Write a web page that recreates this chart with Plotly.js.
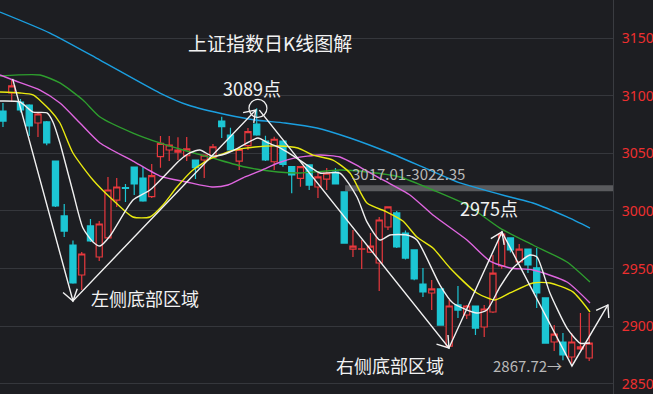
<!DOCTYPE html>
<html><head><meta charset="utf-8">
<script src="https://cdn.plot.ly/plotly-3.0.1.min.js"></script>
<style>html,body{margin:0;padding:0;background:#1d1e22;overflow:hidden}#chart{width:653px;height:394px}</style>
</head><body><div id="chart"></div>
<script>
// ---- candles (left to right) ----
const opens = [3086.7,3102.3,3094.5,3091.9,3076.3,3077.2,3043.3,2995.7,2970.5,2944.5,
  2987.0,2960.1,2976.6,3009.5,3020.3,3038.1,3028.6,3012.4,3047.1,3052.9,
  3051.1,3047.9,3044.2,3044.2,3046.2,3078.0,3065.9,3043.3,3056.6,3075.4,
  3060.7,3042.7,3060.7,3038.4,3028.3,3039.9,3020.8,3027.7,3033.8,3016.5,
  2967.0,2966.8,2964.4,2954.9,2986.1,2998.3,2980.9,2966.2,2936.7,2928.9,
  2932.4,2882.9,2918.5,2909.8,2917.6,2899.4,2912.4,2952.3,2976.6,2955.8,
  2967.0,2950.6,2924.6,2886.4,2886.4,2873.4,2880.3,2872.5];
const highs = [3093.6,3113.6,3097.0,3092.5,3085.8,3078.0,3043.5,3006.1,2974.5,2964.4,
  2993.0,2991.3,3029.5,3028.6,3023.4,3038.5,3038.1,3040.7,3065.0,3065.0,
  3063.9,3064.2,3044.2,3048.5,3058.1,3081.8,3072.2,3055.7,3072.0,3089.0,
  3065.3,3064.4,3060.7,3038.4,3038.4,3040.0,3032.9,3037.3,3037.3,3016.5,
  2983.5,2974.8,2980.9,2994.8,3003.5,3000.0,2983.0,2966.2,2950.6,2940.2,
  2932.4,2922.8,2935.0,2918.5,2917.6,2918.5,2961.8,2982.0,2977.0,2971.4,
  2967.0,2967.9,2924.6,2901.1,2894.2,2894.2,2911.5,2911.5];
const lows = [3072.8,3094.5,3085.5,3065.0,3064.2,3057.0,3003.5,2977.4,2937.0,2931.5,
  2973.0,2956.6,2976.0,3003.5,3007.8,3013.9,3008.0,3011.3,3037.5,3043.3,
  3044.2,3043.3,3027.7,3028.6,3045.9,3063.3,3052.9,3035.5,3052.9,3065.3,
  3043.3,3035.5,3038.4,3015.3,3021.1,3018.2,3011.3,3018.2,3023.4,2972.2,
  2960.1,2949.7,2963.6,2930.6,2983.5,2968.0,2958.0,2940.0,2925.4,2914.1,
  2901.1,2882.1,2907.2,2906.3,2892.5,2890.7,2911.5,2950.0,2964.0,2955.0,
  2946.2,2915.9,2885.0,2878.6,2870.5,2867.72,2879.5,2869.9];
const closes = [3078.0,3108.4,3087.6,3073.7,3084.1,3059.0,3004.3,2982.6,2937.6,2962.7,
  2974.0,2988.7,3018.2,3020.8,3019.6,3023.4,3008.7,3030.6,3058.7,3057.2,
  3052.9,3053.8,3037.5,3048.5,3055.7,3073.1,3052.9,3053.5,3068.8,3065.9,
  3044.2,3062.2,3040.5,3031.2,3038.4,3022.5,3029.5,3032.9,3023.4,2972.2,
  2969.6,2967.2,2969.6,2992.2,3003.5,2968.8,2959.2,2941.0,2929.8,2932.4,
  2901.1,2917.6,2914.1,2917.6,2898.5,2915.0,2946.2,2980.0,2966.2,2967.0,
  2953.2,2928.9,2885.5,2893.3,2875.1,2886.4,2882.1,2885.5];
const dayIndex = opens.map((_, i) => i);

// ---- moving averages (x = day position) ----
const ma5X = [-0.34,1.94,3.43,5.03,5.71,6.51,8.0,9.14,10.29,11.09,12.23,14.86,16.8,19.09,20.23,21.37,22.51,23.89,25.37,26.86,29.14,30.29,31.43,33.03,35.09,36.23,38.51,40.46,41.6,43.09,44.23,46.17,47.31,49.94,51.43,54.17,55.31,56.8,58.29,60.23,61.03,62.51,64.46,65.94,67.09];
const ma5Y = [3095.4,3094.5,3085.8,3085.0,3077.2,3059.0,3016.5,2985.2,2973.1,2969.6,2978.3,3009.5,3018.2,3035.5,3044.2,3050.3,3052.9,3047.7,3049.4,3054.6,3063.3,3059.0,3055.5,3048.5,3038.1,3032.9,3032.9,3012.1,2990.5,2974.8,2979.2,2979.2,2974.8,2935.8,2920.2,2911.5,2914.1,2934.1,2950.6,2961.8,2960.1,2928.9,2898.5,2885.5,2885.5];
const ma10X = [-0.34,1.94,3.43,5.37,6.51,8.0,10.29,12.57,14.86,16.8,18.29,19.89,21.71,23.89,26.51,28.8,31.43,33.71,35.43,37.71,39.66,41.6,43.89,45.71,47.31,49.14,51.09,54.17,56.23,57.94,60.57,62.51,65.14,67.09];
const ma10Y = [3103.2,3102.3,3100.6,3087.6,3076.3,3050.3,3026.9,3009.5,2994.8,2994.8,3005.2,3020.8,3035.5,3046.0,3052.9,3055.5,3056.4,3054.6,3048.5,3044.2,3032.9,3006.9,2999.1,2991.3,2977.4,2967.9,2950.6,2928.9,2922.8,2928.9,2937.6,2937.6,2929.8,2912.4];
const ma20X = [-0.34,1.14,4.23,6.51,8.8,11.09,14.86,17.94,21.03,23.89,25.71,27.66,29.6,31.43,33.37,36.23,38.51,40.8,43.43,46.51,49.14,53.03,55.66,57.94,60.57,64.46,67.09];
const ma20Y = [3117.9,3113.6,3104.9,3093.6,3076.3,3059.0,3043.3,3030.3,3025.1,3020.8,3022.5,3029.5,3035.5,3041.6,3046.0,3048.5,3046.8,3038.1,3026.9,3013.9,2996.5,2974.8,2956.6,2950.6,2948.8,2938.4,2920.2];
const ma30X = [-0.34,4.23,6.51,9.14,11.09,14.86,17.94,20.57,23.89,27.66,31.43,33.94,38.51,41.6,45.37,49.14,53.03,56.8,60.57,64.46,67.09];
const ma30Y = [3117.1,3117.9,3111.0,3096.2,3081.5,3067.6,3059.0,3052.9,3046.0,3038.1,3033.8,3032.9,3035.5,3033.8,3029.5,3018.2,3005.2,2985.2,2970.5,2955.8,2938.4];
const ma60X = [-0.34,5.37,11.09,17.94,21.14,25.71,28.8,32.23,35.89,39.66,44.23,48.0,52.23,57.94,60.57,64.46,67.09];
const ma60Y = [3172.5,3154.3,3130.9,3102.3,3091.9,3083.2,3078.9,3076.3,3072.0,3063.3,3050.3,3038.1,3024.3,3012.1,3006.9,2994.8,2985.2];

const yTicks = [2850, 2900, 2950, 3000, 3050, 3100, 3150];
const gapLow = 3017.01, gapHigh = 3022.35;
const peakHigh = 3089, midHigh = 2975, lowestLow = 2867.72;

// ---- annotation drawing (zig-zag arrows) ----
const zigA = [[1.1, 3114.5], [8.0, 2922.0], [28.9, 3087.6]];
const zigAHeads = [1, 2];
const zigB = [[29.3, 3087.5], [50.97, 2881.2], [57.03, 2981.8], [65.03, 2865.6], [69.14, 2918.5]];
const zigBHeads = [1, 2, 4];

const BG = '#1d1e22';
const X_RANGE = [-0.34, 69.72];
const Y_RANGE = [2841.3, 3182.95];
const PW = 613, PH = 394;
function toPx(x, y) { return [(x - X_RANGE[0]) / (X_RANGE[1] - X_RANGE[0]) * PW, (Y_RANGE[1] - y) / (Y_RANGE[1] - Y_RANGE[0]) * PH]; }
function toData(px, py) { return [X_RANGE[0] + px / PW * (X_RANGE[1] - X_RANGE[0]), Y_RANGE[1] - py / PH * (Y_RANGE[1] - Y_RANGE[0])]; }
function headPath(prev, tip, len, ang) {
  const [x0, y0] = toPx(prev[0], prev[1]), [x1, y1] = toPx(tip[0], tip[1]);
  const dx = x1 - x0, dy = y1 - y0, n = Math.hypot(dx, dy);
  const ux = dx / n, uy = dy / n;
  const pts = [ang, -ang].map(a => {
    const c = Math.cos(a), s = Math.sin(a);
    const rx = -(ux * c - uy * s), ry = -(ux * s + uy * c);
    return toData(x1 + rx * len, y1 + ry * len);
  });
  return `M${pts[0][0]},${pts[0][1]} L${tip[0]},${tip[1]} L${pts[1][0]},${pts[1][1]}`;
}
function polyPath(pts) { return pts.map((p, i) => (i ? 'L' : 'M') + p[0] + ',' + p[1]).join(' '); }

const white = '#f2f2f2';
const shapes = [
  {type: 'rect', xref: 'paper', yref: 'y', x0: 0.563, x1: 1, y0: gapLow, y1: gapHigh,
   fillcolor: '#5a5b5e', line: {width: 0}, layer: 'below'},
  {type: 'path', xref: 'x', yref: 'y', path: polyPath(zigA), line: {color: white, width: 1.4}},
  {type: 'path', xref: 'x', yref: 'y', path: polyPath(zigB), line: {color: white, width: 1.4}},
  {type: 'circle', xref: 'x', yref: 'y', xsizemode: 'pixel', ysizemode: 'pixel',
   xanchor: 29.14, yanchor: peakHigh, x0: -9, x1: 9, y0: -9, y1: 9, line: {color: white, width: 1.2}}
];
zigAHeads.forEach(i => shapes.push({type: 'path', xref: 'x', yref: 'y', path: headPath(zigA[i - 1], zigA[i], 13, 0.6), line: {color: white, width: 1.4}}));
zigBHeads.forEach(i => shapes.push({type: 'path', xref: 'x', yref: 'y', path: headPath(zigB[i - 1], zigB[i], 13, 0.6), line: {color: white, width: 1.4}}));

const cjk = '"Noto Sans CJK SC", "Noto Sans", sans-serif';
function label(text, x, y, size, color) {
  return {text, x, y, xref: 'x', yref: 'y', showarrow: false, xanchor: 'center', yanchor: 'middle',
          font: {family: cjk, size, color}};
}
const annotations = [
  label('上证指数日K线图解', 30.51, 3145.7, 19, white),
  label(peakHigh + '点', 28.46, 3106.6, 18, white),
  label(gapLow.toFixed(2) + '-' + gapHigh.toFixed(2), 46.4, 3032.1, 15, '#b9b9b9'),
  label(midHigh + '点', 55.54, 3002.6, 18, white),
  label('左侧底部区域', 16.23, 2924.5, 18, white),
  label('右侧底部区域', 44.23, 2866.5, 18, white),
  label(lowestLow.toFixed(2) + '→', 60.0, 2865.6, 15, '#b9b9b9')
];

function maTrace(x, y, color) {
  return {type: 'scatter', mode: 'lines', x, y, line: {color, width: 1.4, shape: 'spline', smoothing: 0.6}, hoverinfo: 'skip'};
}
const data = [
  {type: 'candlestick', x: dayIndex, open: opens, high: highs, low: lows, close: closes,
   increasing: {line: {color: '#e8383d', width: 1.2}, fillcolor: BG},
   decreasing: {line: {color: '#1cc6d4', width: 1.2}, fillcolor: '#1cc6d4'},
   whiskerwidth: 0, hoverinfo: 'skip'},
  maTrace(ma60X, ma60Y, '#1b9fe0'),
  maTrace(ma30X, ma30Y, '#2e9e2e'),
  maTrace(ma20X, ma20Y, '#e066e0'),
  maTrace(ma10X, ma10Y, '#eaea10'),
  maTrace(ma5X, ma5Y, '#f0f0f0')
];

const layout = {
  width: 653, height: 394,
  paper_bgcolor: BG, plot_bgcolor: BG,
  margin: {l: 0, r: 40, t: 0, b: 0, pad: 0},
  showlegend: false,
  boxgap: 0.3, boxgroupgap: 0,
  xaxis: {range: X_RANGE, visible: false, rangeslider: {visible: false}, fixedrange: true},
  yaxis: {side: 'right', range: Y_RANGE, tickvals: yTicks, ticktext: yTicks.map(String),
          tickfont: {family: '"Noto Sans", sans-serif', size: 14, color: '#ee2f2f'},
          gridcolor: '#35373c', gridwidth: 1, showline: true, linecolor: '#3a3c41', linewidth: 1,
          zeroline: false, ticks: '', ticklabelstandoff: 5, automargin: false, fixedrange: true},
  shapes, annotations
};
Plotly.newPlot('chart', data, layout, {staticPlot: true, displayModeBar: false});
</script></body></html>
